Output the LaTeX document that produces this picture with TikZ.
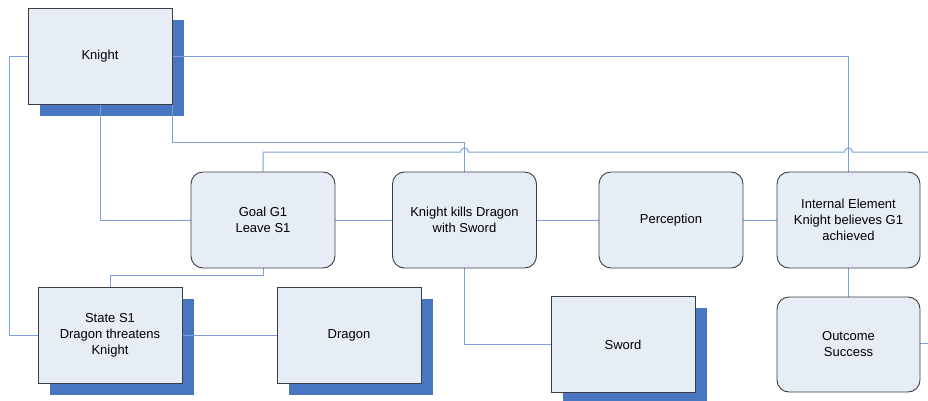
\documentclass[tikz,border=0pt]{standalone}
\usepackage{fontspec}
\setmainfont{Liberation Sans}
\usetikzlibrary{calc,backgrounds}
\definecolor{wire}{RGB}{126,160,220}
\definecolor{shade}{RGB}{72,118,192}
\definecolor{boxfill}{RGB}{231,237,247}
\definecolor{boxline}{RGB}{60,60,60}
\tikzset{
  base/.style={draw=boxline, line width=0.9pt, fill=boxfill, align=center,
    minimum width=144pt, minimum height=96pt, inner sep=0pt,
    font=\fontsize{13}{16}\selectfont},
  entity/.style={base},
  event/.style={base, rounded corners=12pt},
  shadowbox/.style={fill=shade, draw=none},
  wireline/.style={draw=wire, line width=1pt}
}
\newcommand{\shadowed}[1]{%
  \fill[shadowbox] ($(#1.north west)+(12,12)$) rectangle ($(#1.south east)+(12,12)$);}
\begin{document}
\begin{tikzpicture}[x=1pt,y=-1pt]
\useasboundingbox (0,0) rectangle (928,400);
% entity boxes with drop shadows
\node[entity] (knight) at (100,56) {};
\node[entity] (state) at (110,335) {};
\node[entity] (dragon) at (349,335) {};
\node[entity] (sword) at (623,344.5) {};
\begin{scope}[on background layer]
  \shadowed{knight}
  \shadowed{state}
  \shadowed{dragon}
  \shadowed{sword}
\end{scope}
\node[entity] at (knight) {Knight};
\node[entity] at (state) {State S1\\Dragon threatens\\Knight};
\node[entity] at (dragon) {Dragon};
\node[entity] at (sword) {Sword};
% event boxes
\node[event] (goal) at (263,220) {Goal G1\\Leave S1};
\node[event] (kill) at (464.5,220) {Knight kills Dragon\\with Sword};
\node[event] (perc) at (671,220) {Perception};
\node[event, minimum width=143pt] (intern) at (848.5,220) {Internal Element\\Knight believes G1\\achieved};
\node[event, minimum width=143pt, minimum height=95pt] (outcome) at (848.5,344.5) {Outcome\\Success};
% free ends at the right border
\coordinate (edgeA) at (928,152);
\coordinate (edgeB) at (928,343);
\begin{scope}[on background layer]
  \draw[wireline] (knight.west) -- ([xshift=-18pt]knight.west) |- (state.west);
  \draw[wireline] (knight.east) -| (intern.north);
  \draw[wireline] (knight.south) |- (goal.west);
  \draw[wireline] (knight.south east) -- ([yshift=-38pt]knight.south east) -| (kill.north);
  \draw[wireline] (goal.north) |- ($(kill.north |- edgeA)+(-4,0)$)
     arc[start angle=180, end angle=0, radius=4pt]
     -- ($(intern.north |- edgeA)+(-4,0)$)
     arc[start angle=180, end angle=0, radius=4pt]
     -- (edgeA);
  \draw[wireline] (goal.south) -- ([yshift=-7pt]goal.south) -| (state.north);
  \draw[wireline] (goal.east) -- (kill.west);
  \draw[wireline] (kill.east) -- (perc.west);
  \draw[wireline] (perc.east) -- (intern.west);
  \draw[wireline] (intern.south) -- (outcome.north);
  \draw[wireline] (outcome.east |- edgeB) -- (edgeB);
  \draw[wireline] (kill.south) |- (sword.west);
  \draw[wireline] (state.east) -- (dragon.west);
\end{scope}
\end{tikzpicture}
\end{document}
